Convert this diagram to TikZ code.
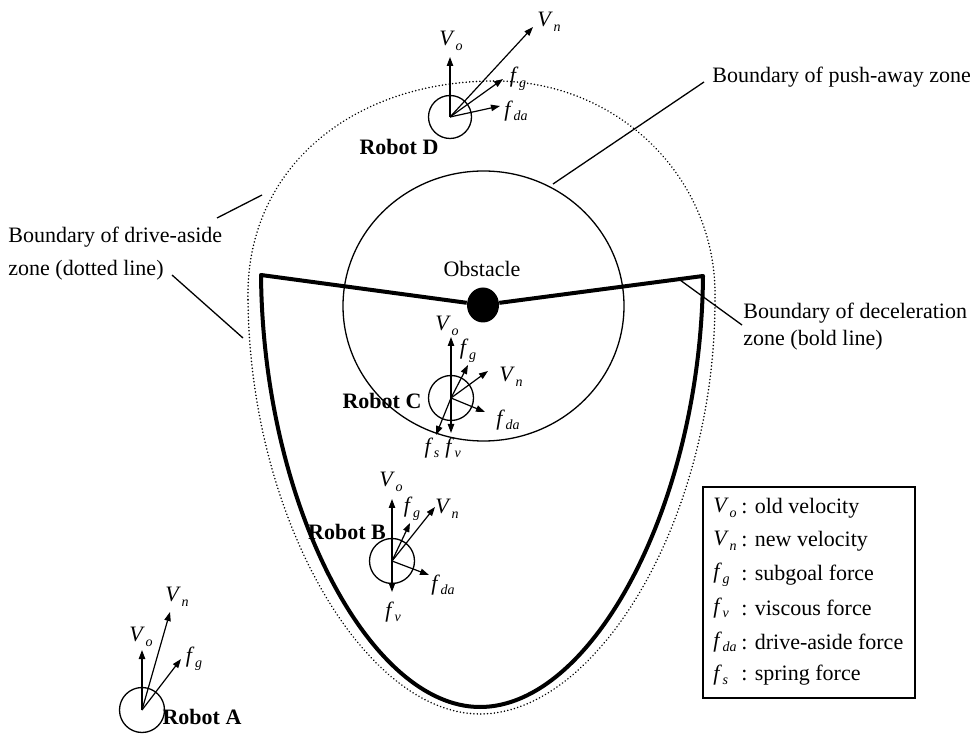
\documentclass[tikz,border=0pt]{standalone}
\usepackage{fontspec}
\setmainfont{Liberation Serif}
\usetikzlibrary{arrows.meta,shapes.geometric}

% italic symbol with a lowered italic index, e.g. V_o, f_da
\newcommand\lowsub[1]{\raisebox{-0.45ex}{\fontsize{7}{8}\selectfont\itshape #1}}
\newcommand\vsym[2]{\textit{#1}\kern0.3pt\lowsub{#2}}

\begin{document}
\begin{tikzpicture}[x=0.5pt,y=-0.5pt,
  fineline/.style={line width=0.65pt},
  decel/.style={line width=2pt, line join=round},
  driveaside/.style={line width=0.85pt, dash pattern=on 0.01pt off 1.7pt, line cap=round},
  vec/.style={line width=0.6pt, -{Triangle[length=4.5pt,width=3.2pt]}},
  robot/.style={circle, draw, line width=0.65pt, minimum size=22.5pt, inner sep=0pt},
  lbl/.style={font=\fontsize{11}{13}\selectfont, inner sep=0pt},
  robotlbl/.style={font=\fontsize{11}{13}\selectfont\bfseries, inner sep=0pt},
  vlbl/.style={font=\fontsize{11}{13}\selectfont, inner sep=0pt},
  legsym/.style={font=\fontsize{11}{13}\selectfont, inner sep=0pt, anchor=west},
  legtext/.style={font=\fontsize{11}{13}\selectfont, inner sep=0pt, anchor=west}]

\useasboundingbox (0,0) rectangle (975,737);

% ---------------- zones ----------------
% push-away zone around the obstacle
\node[ellipse, draw, fineline, minimum width=140.5pt, minimum height=135pt, inner sep=0pt] (push) at (483.5,306) {};
% obstacle
\node[ellipse, fill=black, minimum width=16pt, minimum height=17.5pt, inner sep=0pt] (obs) at (483,305) {};
\node[lbl] (obslbl) at (482,269) {Obstacle};

% deceleration zone (bold)
\coordinate (dtl) at (261,275);
\coordinate (dbot) at (480,707);
\coordinate (dtr) at (703,276);
\draw[decel] (obs) -- (dtl) .. controls (263,505) and (370,707) .. (dbot)
  .. controls (592,707) and (701,505) .. (dtr) -- (obs);

% drive-aside zone (dotted)
\draw[driveaside] (248,300) .. controls (250,520) and (365,714) .. (480,714)
  .. controls (597,714) and (715,520) .. (715,300)
  .. controls (718,180) and (620,81) .. (495,81)
  .. controls (350,81) and (245,170) .. (248,300) -- cycle;

% ---------------- zone labels and leaders ----------------
\node[lbl, anchor=west] (pushlbl) at (712,77) {Boundary of push-away zone};
\coordinate (pushA) at (704,82);
\coordinate (pushB) at (553,184);
\draw[fineline] (pushA) -- (pushB);

\node[lbl, anchor=west] (dalbl1) at (8,237) {Boundary of drive-aside};
\node[lbl, anchor=west] (dalbl2) at (8,270) {zone (dotted line)};
\coordinate (daA) at (217,218);
\coordinate (daB) at (262,195);
\coordinate (daC) at (172,275);
\coordinate (daD) at (243,338);
\draw[fineline] (daA) -- (daB);
\draw[fineline] (daC) -- (daD);

\node[lbl, anchor=west] (delbl1) at (743,313) {Boundary of deceleration};
\node[lbl, anchor=west] (delbl2) at (743,340) {zone (bold line)};
\coordinate (deA) at (742,325);
\coordinate (deB) at (680,280);
\draw[fineline] (deA) -- (deB);

% ---------------- Robot D ----------------
\node[robot, minimum size=21.5pt] (rd) at (450,117) {};
\coordinate (rdVo) at (450,57);
\coordinate (rdVn) at (533,27);
\coordinate (rdfg) at (503,79);
\coordinate (rdfda) at (500,106);
\draw[vec] (rd.center) -- (rdVo);
\draw[vec] (rd.center) -- (rdVn);
\draw[vec] (rd.center) -- (rdfg);
\draw[vec] (rd.center) -- (rdfda);
\node[vlbl] (rdVoL) at (451,41) {\vsym{V}{o}};
\node[vlbl] (rdVnL) at (549,22) {\vsym{V}{n}};
\node[vlbl] (rdfgL) at (518,79) {\vsym{f}{g}};
\node[vlbl] (rdfdaL) at (516,111) {\vsym{f}{da}};
\node[robotlbl] (rdL) at (399,147) {Robot D};

% ---------------- Robot C ----------------
\node[robot] (rc) at (451,398) {};
\coordinate (rcVo) at (451,337);
\coordinate (rcfg) at (468,365);
\coordinate (rcVn) at (488,371);
\coordinate (rcfda) at (485,412);
\coordinate (rcfv) at (451,433);
\coordinate (rcfs) at (436,435);
\draw[vec] (rc.center) -- (rcVo);
\draw[vec] (rc.center) -- (rcfg);
\draw[vec] (rc.center) -- (rcVn);
\draw[vec] (rc.center) -- (rcfda);
\draw[vec] (rc.center) -- (rcfv);
\draw[vec] (rc.center) -- (rcfs);
\node[vlbl] (rcVoL) at (447,326) {\vsym{V}{o}};
\node[vlbl] (rcfgL) at (468,351) {\vsym{f}{g}};
\node[vlbl] (rcVnL) at (511,377) {\vsym{V}{n}};
\node[vlbl] (rcfdaL) at (508,420) {\vsym{f}{da}};
\node[vlbl] (rcfsL) at (432,448) {\vsym{f}{s}};
\node[vlbl] (rcfvL) at (453,448) {\vsym{f}{v}};
\node[robotlbl] (rcL) at (382,401) {Robot C};

% ---------------- Robot B ----------------
\node[robot] (rb) at (392,561) {};
\coordinate (rbVo) at (392,499);
\coordinate (rbfg) at (410,523);
\coordinate (rbVn) at (435,507);
\coordinate (rbfda) at (429,575);
\coordinate (rbfv) at (392,592);
\draw[vec] (rb.center) -- (rbVo);
\draw[vec] (rb.center) -- (rbfg);
\draw[vec] (rb.center) -- (rbVn);
\draw[vec] (rb.center) -- (rbfda);
\draw[vec] (rb.center) -- (rbfv);
\node[vlbl] (rbVoL) at (391,482) {\vsym{V}{o}};
\node[vlbl] (rbfgL) at (412,509) {\vsym{f}{g}};
\node[vlbl] (rbVnL) at (447,509) {\vsym{V}{n}};
\node[vlbl] (rbfdaL) at (443,585) {\vsym{f}{da}};
\node[vlbl] (rbfvL) at (393,612) {\vsym{f}{v}};
\node[robotlbl] (rbL) at (347,532) {Robot B};

% ---------------- Robot A ----------------
\node[robot] (ra) at (142,710) {};
\coordinate (raVo) at (142,650);
\coordinate (raVn) at (170,612);
\coordinate (rafg) at (181,659);
\draw[vec] (ra.center) -- (raVo);
\draw[vec] (ra.center) -- (raVn);
\draw[vec] (ra.center) -- (rafg);
\node[vlbl] (raVoL) at (141,637) {\vsym{V}{o}};
\node[vlbl] (raVnL) at (177,597) {\vsym{V}{n}};
\node[vlbl] (rafgL) at (194,659) {\vsym{f}{g}};
\node[robotlbl] (raL) at (202,717) {Robot A};

% ---------------- legend ----------------
\node[draw, fineline, minimum width=106pt, minimum height=105.5pt, inner sep=0pt] (legend) at (809,592.5) {};
\node[legsym] (ls1) at (713,508) {\vsym{V}{o}};
\node[legtext] (lt1) at (741,508) {: old velocity};
\node[legsym] (ls2) at (713,541) {\vsym{V}{n}};
\node[legtext] (lt2) at (741,541) {: new velocity};
\node[legsym] (ls3) at (713,575) {\vsym{f}{g}};
\node[legtext] (lt3) at (741,575) {: subgoal force};
\node[legsym] (ls4) at (713,608) {\vsym{f}{v}};
\node[legtext] (lt4) at (741,608) {: viscous force};
\node[legsym] (ls5) at (713,642) {\vsym{f}{da}};
\node[legtext] (lt5) at (741,642) {: drive-aside force};
\node[legsym] (ls6) at (713,675) {\vsym{f}{s}};
\node[legtext] (lt6) at (741,675) {: spring force};

\end{tikzpicture}
\end{document}
